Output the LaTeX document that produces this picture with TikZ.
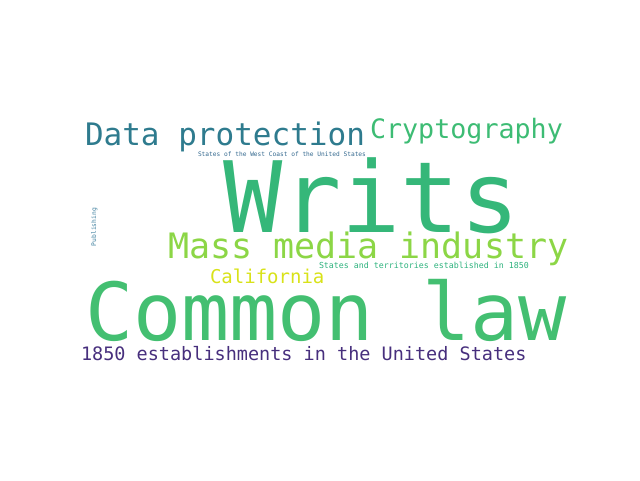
\documentclass[tikz,border=0pt]{standalone}
\usepackage{fontspec}
\setmainfont{DejaVu Sans Mono}
\definecolor{cteal}{HTML}{2E7B8E}
\definecolor{cgreen}{HTML}{3DBC74}
\definecolor{cwrits}{HTML}{35B779}
\definecolor{clime}{HTML}{8CD646}
\definecolor{cyellow}{HTML}{D8E219}
\definecolor{ccommon}{HTML}{43BF71}
\definecolor{cpurple}{HTML}{472F7D}
\definecolor{cblue}{HTML}{33688E}
\definecolor{cmint}{HTML}{2DB27D}
\definecolor{cpub}{HTML}{3E7F9E}
\tikzset{
  word/.style={anchor=base west, inner sep=0pt, outer sep=0pt},
  sz/.style={font=\fontsize{#1}{#1}\selectfont}
}
\begin{document}
\begin{tikzpicture}[x=1pt,y=-1pt]
\useasboundingbox (0,0) rectangle (640,480);
%\draw (0,0) rectangle (640,480);

\draw (85,145) node[word,sz=31,cteal] (data) {Data protection};
\draw (370,138) node[word,sz=26.7,cgreen] (crypto) {Cryptography};
\draw (198,156) node[word,sz=6.2,cblue] (westcoast) {States of the West Coast of the United States};
\draw (223,232) node[word,sz=98.5,cwrits] (writs) {Writs};
\draw (96,246) node[word,sz=6.3,cpub,rotate=90] (pub) {Publishing};
\draw (168,258) node[word,sz=35,clime] (mass) {Mass media industry};
\draw (319,268) node[word,sz=8.3,cmint] (territ) {States and territories established in 1850};
\draw (210,283) node[word,sz=19,cyellow] (calif) {California};
\draw (85,340) node[word,sz=80,ccommon] (common) {Common law};
\draw (81,360) node[word,sz=18.5,cpurple] (estab) {1850 establishments in the United States};
\end{tikzpicture}
\end{document}
